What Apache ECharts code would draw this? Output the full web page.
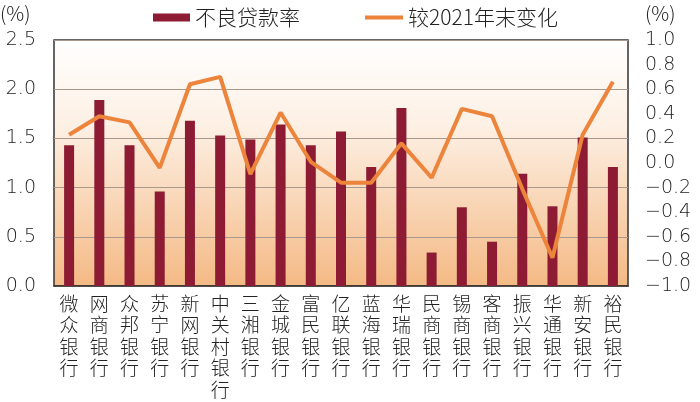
<!DOCTYPE html>
<html><head><meta charset="utf-8">
<script src="https://cdn.jsdelivr.net/npm/echarts@6/dist/echarts.min.js"></script>
<style>html,body{margin:0;padding:0;background:#fff}#c{width:700px;height:402px}</style>
</head><body><div id="c"></div>
<script>
const categories = ['微众银行','网商银行','众邦银行','苏宁银行','新网银行','中关村银行','三湘银行','金城银行','富民银行','亿联银行','蓝海银行','华瑞银行','民商银行','锡商银行','客商银行','振兴银行','华通银行','新安银行','裕民银行'];
const nplRatio = [1.43, 1.89, 1.43, 0.96, 1.68, 1.53, 1.49, 1.64, 1.43, 1.57, 1.21, 1.81, 0.34, 0.80, 0.45, 1.14, 0.81, 1.51, 1.21];
const changeVs2021 = [0.23, 0.38, 0.33, -0.04, 0.64, 0.70, -0.09, 0.41, 0.01, -0.16, -0.16, 0.16, -0.12, 0.44, 0.38, -0.21, -0.77, 0.23, 0.66];
const seriesNames = ['不良贷款率', '较2021年末变化'];
const unitLabel = '(%)';

const FONT = '"Noto Sans CJK SC", "Noto Sans", sans-serif';
const NUMFONT = '"DejaVu Sans", "Noto Sans", sans-serif';
const chart = echarts.init(document.getElementById('c'));
chart.setOption({
  animation: false,
  textStyle: { fontFamily: FONT },
  graphic: [
    { type: 'text', left: 0, top: 3, style: { text: unitLabel, font: '300 20px ' + FONT, fill: '#222' } },
    { type: 'text', left: 645, top: 3, style: { text: unitLabel, font: '300 20px ' + FONT, fill: '#222' } }
  ],
  legend: [
    { data: [{ name: seriesNames[0], icon: 'rect' }], left: 148, top: 2, itemWidth: 37, itemHeight: 8, itemGap: 5,
      textStyle: { fontSize: 21, color: '#222', fontFamily: FONT, fontWeight: 300 } },
    { data: [{ name: seriesNames[1], icon: 'rect' }], left: 360, top: 2, itemWidth: 38, itemHeight: 4, itemGap: 6,
      textStyle: { fontSize: 21, color: '#222', fontFamily: FONT, fontWeight: 300 } }
  ],
  grid: {
    left: 54, right: 72, top: 40, bottom: 116, show: true,
    borderColor: '#333', borderWidth: 1.5,
    backgroundColor: new echarts.graphic.LinearGradient(0, 0, 0, 1, [
      { offset: 0, color: '#FFFFFF' },
      { offset: 0.35, color: '#FDF0E4' },
      { offset: 1, color: '#F4B984' }
    ])
  },
  xAxis: {
    type: 'category', data: categories,
    axisTick: { show: false },
    axisLine: { lineStyle: { color: '#333', width: 1.5 } },
    axisLabel: {
      interval: 0, margin: 7, fontSize: 19, lineHeight: 21.5, color: '#222', fontWeight: 300,
      formatter: v => v.split('').join('\n')
    }
  },
  yAxis: [
    { type: 'value', min: 0, max: 2.5, interval: 0.5,
      axisLine: { show: false }, axisTick: { show: false },
      splitLine: { lineStyle: { color: '#A9998C', width: 1 } },
      axisLabel: { margin: 18, fontSize: 19, color: '#222', fontWeight: 300, fontFamily: NUMFONT, formatter: v => v.toFixed(1) } },
    { type: 'value', min: -1, max: 1, interval: 0.2,
      axisLine: { show: false }, axisTick: { show: false }, splitLine: { show: false },
      axisLabel: { margin: 17, fontSize: 19, color: '#222', fontWeight: 300, fontFamily: NUMFONT,
        formatter: v => (v < 0 ? '−' : '') + Math.abs(v).toFixed(1) } }
  ],
  series: [
    { name: seriesNames[0], type: 'bar', data: nplRatio, barWidth: 10, yAxisIndex: 0,
      itemStyle: { color: '#8C1B33' } },
    { name: seriesNames[1], type: 'line', data: changeVs2021, yAxisIndex: 1,
      symbol: 'none', lineStyle: { color: '#EC843C', width: 4 }, itemStyle: { color: '#EC843C' } }
  ]
});
</script></body></html>
